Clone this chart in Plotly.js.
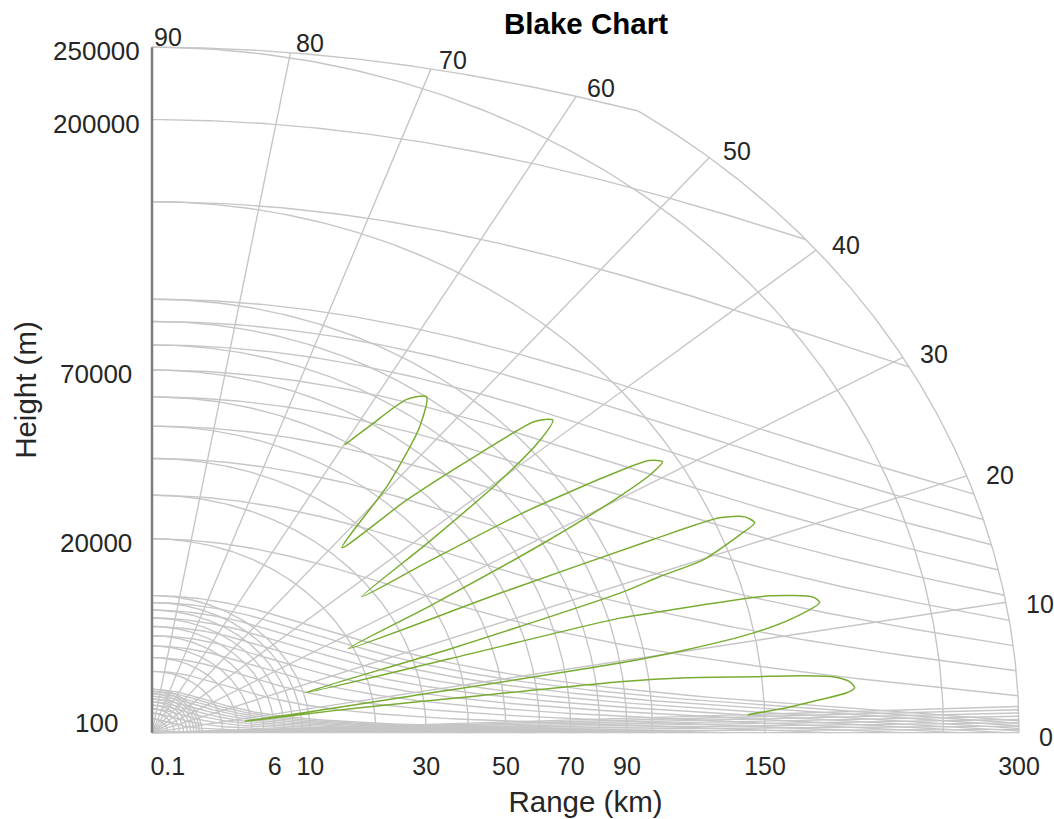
<!DOCTYPE html>
<html>
<head>
<meta charset="utf-8">
<script src="https://cdn.plot.ly/plotly-3.0.1.min.js"></script>
<style>html,body{margin:0;padding:0;background:#fff}</style>
</head>
<body>
<div id="chart" style="width:1054px;height:819px"></div>
<script>
// ---------------- data ----------------
// vertical coverage pattern: detection range (km) at each elevation angle (deg)
const vcpRangeKm = [141.8,161.1,178.5,193.5,198.1,195.6,186.6,169.2,145.7,115.7,88.7,43.6,17.6,8.9,3.5,
  9,25.2,89.9,117.7,149.4,171.0,186.9,184.2,162.4,110.7,94.3,38.3,10.2,
  40,97.7,115.9,137.1,158.7,168.4,165.0,153.2,120,60,19.1,
  40,80,115,135,143.1,138,120,80,45,27.4,
  50,80,105,116.1,110,85,55,32.6,
  55,78,90.1,85,70,58.9];
const vcpAngleDeg = [2.00,2.60,3.26,3.80,4.22,4.82,5.42,5.80,6.14,6.77,7.17,7.42,7.9,8.0,8.1,
  8.6,9.25,9.75,10.16,10.83,11.66,12.69,13.32,14.34,15.37,15.79,15.99,16.8,
  18.0,19.0,19.55,19.91,21.24,21.9,22.8,23.6,24.0,24.8,26.3,
  27.8,29.2,30.2,30.9,31.5,32.3,33.0,34.4,35.6,36.8,
  38.5,39.8,41.0,42.0,43.2,44.5,46.5,48.35,
  50.5,52.8,54.7,56.5,58.3,59.9];

// grid of the chart
const rangeGridKm = [0.1,0.2,0.3,0.4,0.5,0.6,0.7,0.8,0.9,1,2,3,4,5,6,7,8,9,10,20,30,40,50,60,70,80,90,100,150,250,300];
const heightGridM = [100,200,300,400,500,600,700,800,900,1000,2000,3000,4000,5000,6000,7000,8000,9000,
  10000,20000,30000,40000,50000,60000,70000,80000,90000,100000,150000,200000,250000];
const angleGridDeg = [0,10,20,30,40,50,60,70,80,90];
const fineAngleDeg = [0.25,0.5,0.75,1,1.25,1.5,1.75,2];

// tick labels
const xTickRangeKm = [0.1,6,10,30,50,70,90,150,300];
const yTickHeightM = [100,20000,70000,200000,250000];

const maxRangeKm = 300;
const maxHeightKm = 250;

// ---------------- geometry (4/3 earth) ----------------
const AE = 6371 * 4 / 3;
const D2R = Math.PI / 180;
function toXY(R, th) { const s = Math.sqrt(R); return [s * Math.cos(th * D2R), s * Math.sin(th * D2R)]; }
function rangeForHeight(H, th) { const s = Math.sin(th * D2R); return -AE * s + Math.sqrt(AE * AE * s * s + 2 * AE * H + H * H); }
function angleFor(R, H) { return Math.asin((2 * AE * H + H * H - R * R) / (2 * AE * R)) / D2R; }

const gx = [], gy = [];
function pushPt(p) { gx.push(p[0]); gy.push(p[1]); }
function brk() { gx.push(null); gy.push(null); }

// range arcs
rangeGridKm.forEach(R => {
  const thMax = R <= maxHeightKm ? 90 : angleFor(R, maxHeightKm);
  const n = 160;
  for (let i = 0; i <= n; i++) pushPt(toXY(R, thMax * i / n));
  brk();
});
// height curves
heightGridM.forEach(hm => {
  const H = hm / 1000;
  const horizon = Math.sqrt(2 * AE * H + H * H);
  const thEnd = horizon <= maxRangeKm ? 0 : angleFor(maxRangeKm, H);
  const n = 260;
  for (let i = 0; i <= n; i++) {
    const u = i / n;
    const th = thEnd + (90 - thEnd) * (0.5 * u * u * u + 0.5 * u);
    const R = Math.min(rangeForHeight(H, th), maxRangeKm);
    pushPt(toXY(R, th));
  }
  brk();
});
// elevation lines
function angleEnd(th) { return Math.min(maxRangeKm, rangeForHeight(maxHeightKm, th)); }
angleGridDeg.concat(fineAngleDeg).forEach(th => {
  pushPt([0, 0]); pushPt(toXY(angleEnd(th), th)); brk();
});

const vx = [], vy = [];
for (let i = 0; i < vcpRangeKm.length; i++) {
  const p = toXY(vcpRangeKm[i], vcpAngleDeg[i]); vx.push(p[0]); vy.push(p[1]);
}

const FONT = '"Liberation Sans", Arial, Helvetica, sans-serif';
const TXT = '#262626';

const traces = [
  { x: gx, y: gy, mode: 'lines', line: { color: 'rgb(198,198,198)', width: 1.4 }, hoverinfo: 'skip', showlegend: false },
  { x: [0, 0], y: [0, Math.sqrt(maxHeightKm)], mode: 'lines', line: { color: 'rgb(125,125,125)', width: 2.5 }, hoverinfo: 'skip', showlegend: false },
  { x: vx, y: vy, mode: 'lines', line: { color: '#77AC30', width: 1.5, shape: 'spline', smoothing: 0.7 }, name: 'VCP', showlegend: false }
];

// plot area in pixels (for placing the centred height labels)
const M = { l: 147, r: 29.6, t: 42.6, b: 81.7 };
const plotW = 1054 - M.l - M.r;

const annotations = angleGridDeg.map(th => {
  const p = toXY(angleEnd(th), th);
  return {
    x: p[0], y: p[1], xref: 'x', yref: 'y', text: String(th), showarrow: false,
    xanchor: 'left', yanchor: 'middle',
    xshift: 18 * Math.cos(th * D2R), yshift: 14 * Math.sin(th * D2R) - 4,
    font: { family: FONT, size: 25, color: TXT }
  };
}).concat(yTickHeightM.map(h => ({
  x: (96 - M.l) / plotW, xref: 'paper', y: Math.sqrt(h / 1000), yref: 'y',
  text: String(h), showarrow: false, xanchor: 'center', yanchor: 'middle', yshift: -4,
  font: { family: FONT, size: 26, color: TXT }
})));

const layout = {
  width: 1054, height: 819,
  paper_bgcolor: '#fff', plot_bgcolor: '#fff',
  margin: M,
  font: { family: FONT, color: TXT },
  title: { text: '<b>Blake Chart</b>', font: { family: FONT, size: 29.5, color: '#000' },
           x: 586 / 1054, xref: 'container', xanchor: 'center', y: 1 - 24 / 819, yref: 'container', yanchor: 'middle' },
  xaxis: {
    range: [-0.1, 17.42], showgrid: false, zeroline: false, showline: false, ticks: '',
    tickvals: xTickRangeKm.map(r => Math.sqrt(r)), ticktext: xTickRangeKm.map(String),
    tickfont: { family: FONT, size: 25, color: TXT }, ticklabelstandoff: 12,
    title: { text: 'Range (km)', font: { family: FONT, size: 29.5, color: TXT }, standoff: 12 },
    automargin: false, fixedrange: true
  },
  yaxis: {
    range: [-0.1, 15.91], showgrid: false, zeroline: false, showline: false, ticks: '',
    showticklabels: false,
    title: { text: 'Height (m)', font: { family: FONT, size: 29.5, color: TXT }, standoff: 100 },
    automargin: false, fixedrange: true
  },
  annotations: annotations,
  showlegend: false
};

Plotly.newPlot('chart', traces, layout, { staticPlot: true, displayModeBar: false });
</script>
</body>
</html>
